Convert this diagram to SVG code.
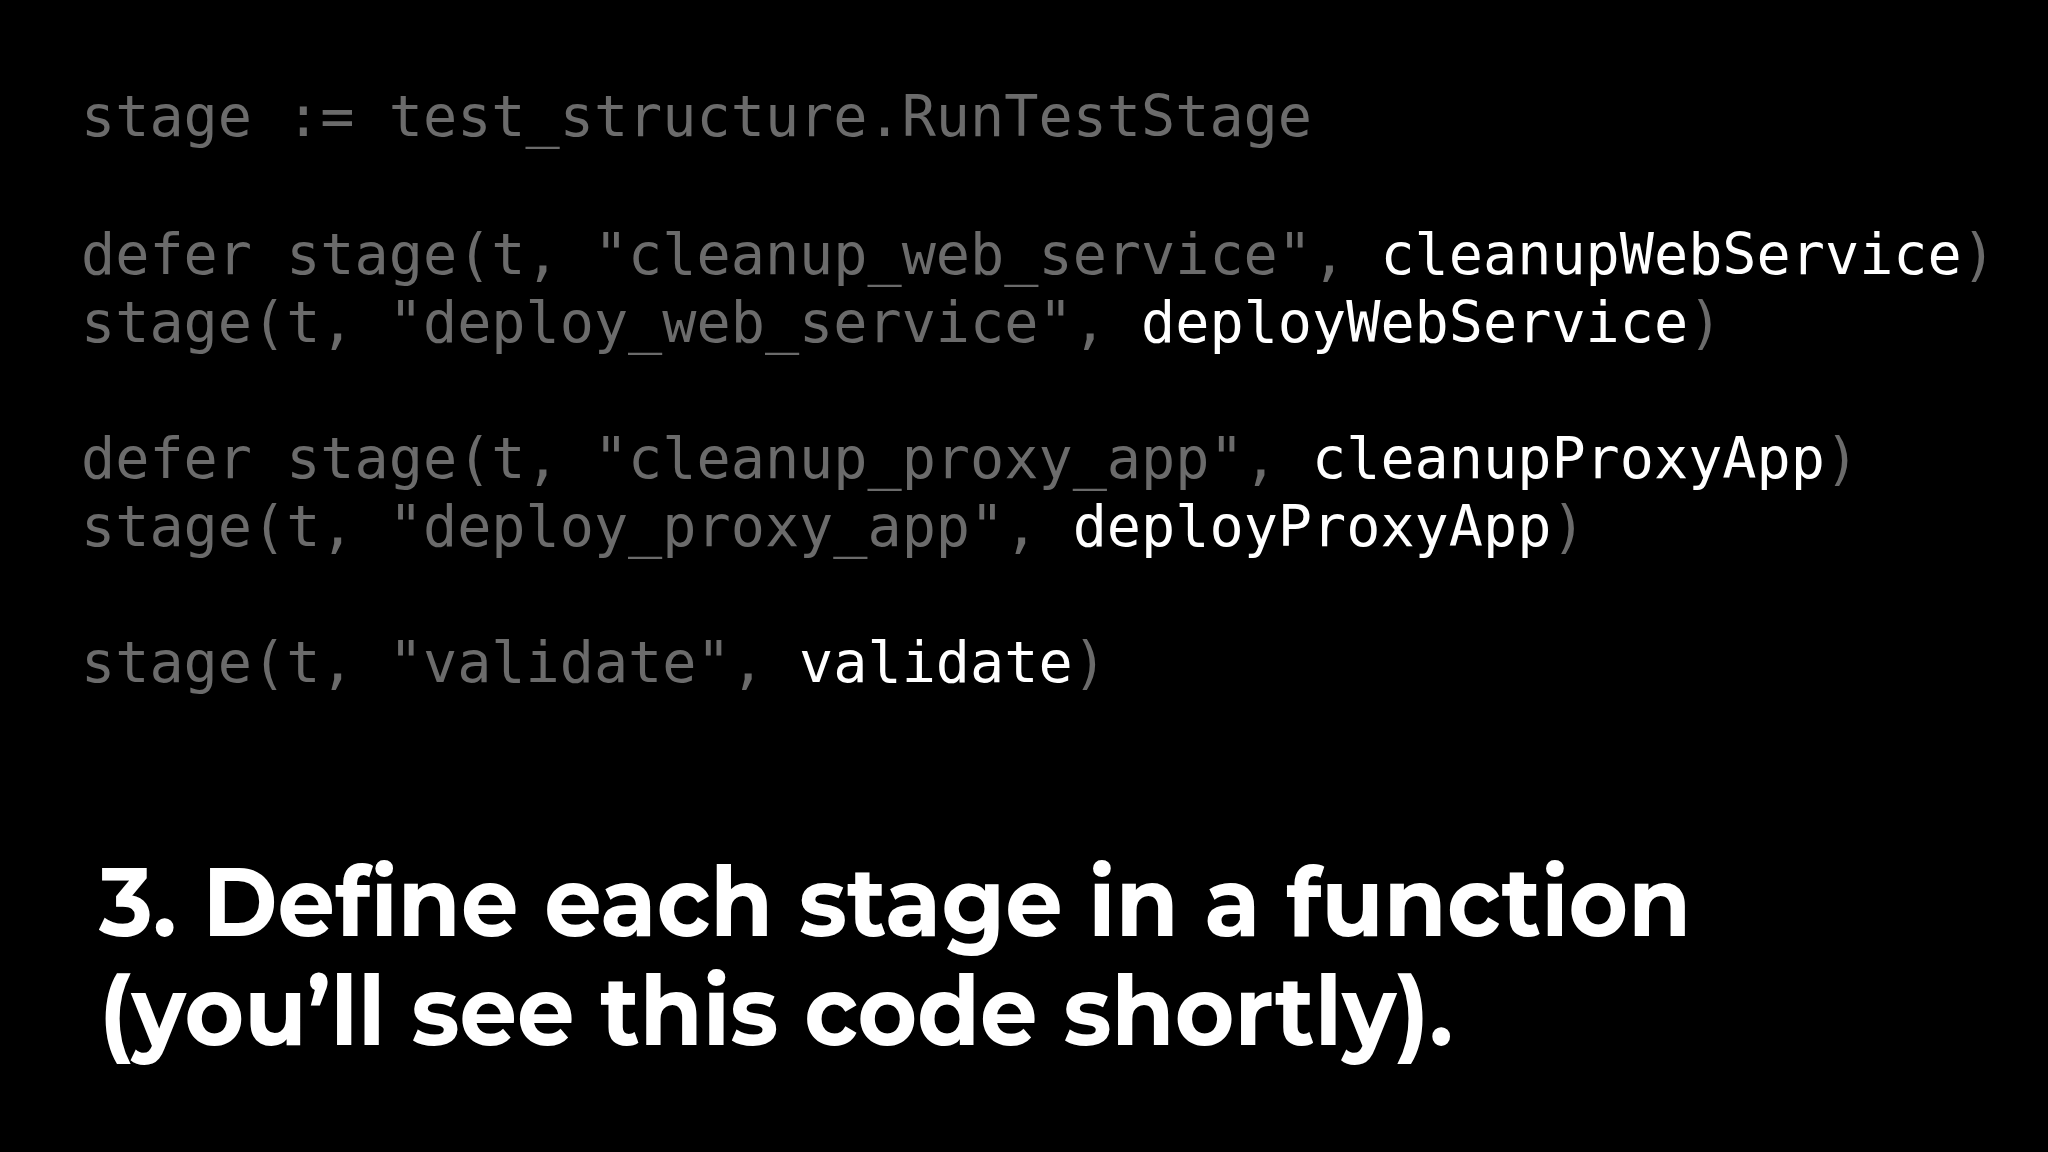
<svg xmlns="http://www.w3.org/2000/svg" width="2048" height="1152" viewBox="0 0 2048 1152">
<style>
.c{font-family:"DejaVu Sans Mono","Liberation Mono",monospace;font-size:56.8px;fill:#6b6b6b;white-space:pre}
.w{fill:#ffffff}
.h{font-family:"Montserrat","Liberation Sans",Arial,sans-serif;font-weight:bold;font-size:96px;fill:#ffffff}
</style>
<rect width="2048" height="1152" fill="#000"/>
<g id="code" xml:space="preserve">
<text class="c" x="81" y="136">stage := test_structure.RunTestStage</text>
<text class="c" x="81" y="274">defer stage(t, "cleanup_web_service", <tspan class="w">cleanupWebService</tspan>)</text>
<text class="c" x="81" y="342">stage(t, "deploy_web_service", <tspan class="w">deployWebService</tspan>)</text>
<text class="c" x="81" y="478">defer stage(t, "cleanup_proxy_app", <tspan class="w">cleanupProxyApp</tspan>)</text>
<text class="c" x="81" y="546">stage(t, "deploy_proxy_app", <tspan class="w">deployProxyApp</tspan>)</text>
<text class="c" x="81" y="682">stage(t, "validate", <tspan class="w">validate</tspan>)</text>
</g>
<g id="caption">
<text class="h" x="99" y="936" textLength="1592" lengthAdjust="spacingAndGlyphs">3. Define each stage in a function</text>
<text class="h" x="99" y="1045" textLength="1354" lengthAdjust="spacingAndGlyphs">(you’ll see this code shortly).</text>
</g>
</svg>
